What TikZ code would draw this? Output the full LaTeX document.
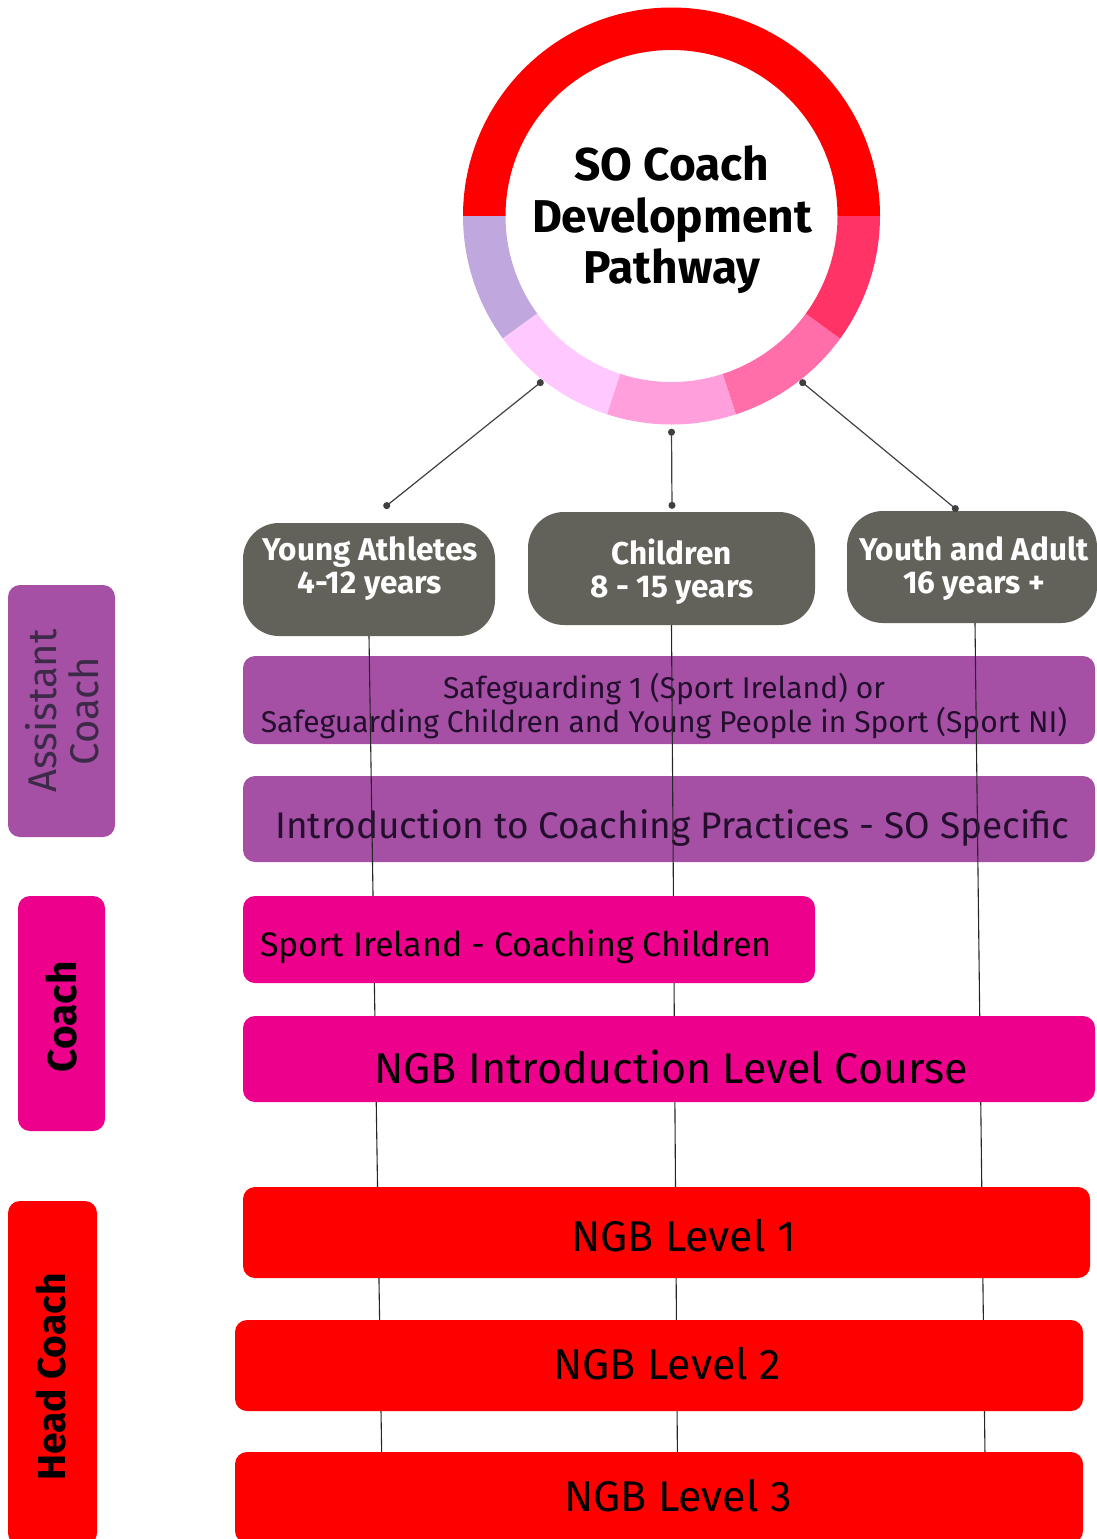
\documentclass[tikz,border=0pt]{standalone}
\usepackage{fontspec}
\setmainfont{Fira Sans}
\usetikzlibrary{arrows.meta,calc}
\definecolor{ringred}{RGB}{255,0,0}
\definecolor{ringlav}{RGB}{192,168,222}
\definecolor{ringlpink}{RGB}{255,200,255}
\definecolor{ringpink}{RGB}{255,160,220}
\definecolor{ringhot}{RGB}{255,110,168}
\definecolor{ringcrim}{RGB}{255,51,102}
\definecolor{agegrey}{RGB}{99,98,90}
\definecolor{acpurple}{RGB}{165,80,165}
\definecolor{cmagenta}{RGB}{236,0,140}
\definecolor{hred}{RGB}{255,0,0}
\definecolor{boxtext}{RGB}{35,15,45}
\definecolor{actext}{RGB}{60,42,72}
\newcommand\ringseg[3]{\fill[#3] ($(so.center)+(#1:208.5)$) arc[start angle=#1, end angle=#2, radius=208.5] -- ($(so.center)+(#2:166)$) arc[start angle=#2, end angle=#1, radius=166] -- cycle;}
\tikzset{
  agebox/.style={fill=agegrey, rounded corners=36pt, inner sep=0pt},
  agetext/.style={text=white, font=\fontsize{31.5}{33}\selectfont\bfseries, align=center},
  purplebox/.style={fill=acpurple, rounded corners=12pt, inner sep=0pt},
  magbox/.style={fill=cmagenta, rounded corners=12pt, inner sep=0pt},
  redbox/.style={fill=hred, rounded corners=12pt, inner sep=0pt},
  leveltext/.style={anchor=base, font=\fontsize{43}{48}\selectfont},
  dotline/.style={draw=black!75, line width=1.2pt, {Circle[length=7pt]}-{Circle[length=7pt]}},
  vline/.style={draw=black!85, line width=1.1pt},
}
\begin{document}
\begin{tikzpicture}[x=1pt,y=-1pt]
\useasboundingbox (0,0) rectangle (1096,1539);
% central ring
\node[circle, minimum size=417pt, inner sep=0pt, align=center,
      font=\fontsize{46}{51.5}\selectfont\bfseries] (so) at (671.5,216) {};
\node[align=center, font=\fontsize{46}{51.5}\selectfont\bfseries] (soT) at (672,220)
      {SO Coach\\Development\\Pathway};
\ringseg{0}{-180}{ringred}
\ringseg{-180}{-216}{ringlav}
\ringseg{-216}{-252}{ringlpink}
\ringseg{-252}{-288}{ringpink}
\ringseg{-288}{-324}{ringhot}
\ringseg{-324}{-360}{ringcrim}
% age boxes
\node[agebox, minimum width=252pt, minimum height=113pt] (ya) at (369,579.5) {};
\node[agebox, minimum width=287pt, minimum height=113pt] (ch) at (671.5,568.5) {};
\node[agebox, minimum width=250pt, minimum height=112pt] (ad) at (972,567) {};
\node[agetext] (yaT) at (370,569) {Young Athletes\\4-12 years};
\node[agetext] (chT) at (672,571.5) {Children\\8 - 15 years};
\node[agetext] (adT) at (974,569) {Youth and Adult\\16 years +};
% top connectors
\coordinate (yaTop) at ($(ya.north)+(15,-15)$);
\coordinate (chTop) at ($(ch.north)+(0.5,-3)$);
\coordinate (adTop) at ($(ad.north)+(-14,0)$);
\draw[dotline] (so.232.6) -- (yaTop);
\draw[dotline] ($(so.270)+(0,4)$) -- (chTop);
\draw[dotline] (so.308.4) -- (adTop);
% assistant coach courses
\node[purplebox, minimum width=852pt, minimum height=88pt] (sg) at (669,700) {};
\node[align=center, text=boxtext, font=\fontsize{30}{34}\selectfont] (sgT) at (664,706)
  {Safeguarding 1 (Sport Ireland) or\\Safeguarding Children and Young People in Sport (Sport NI)};
\node[purplebox, minimum width=852pt, minimum height=86pt] (icp) at (669,819) {};
\node[anchor=base, text=boxtext, font=\fontsize{37}{42}\selectfont] (icpT) at (672.5,838)
  {Introduction to Coaching Practices - SO Specific};
% vertical pathway lines
\coordinate (yaEnd) at (383,1539);
\coordinate (chEnd) at (678,1539);
\coordinate (adEnd) at (986,1539);
\draw[vline] (ya.south) -- (yaEnd);
\draw[vline] (ch.south) -- (chEnd);
\draw[vline] ($(ad.south)+(3,0)$) -- (adEnd);
% coach courses
\node[magbox, minimum width=572pt, minimum height=87pt] (sic) at (529,939.5) {};
\node[anchor=base west, inner sep=0pt, font=\fontsize{34}{40}\selectfont] (sicT) at (260,956)
  {Sport Ireland - Coaching Children};
\node[magbox, minimum width=852pt, minimum height=86pt] (ngbi) at (669,1059) {};
\node[anchor=base, font=\fontsize{43}{48}\selectfont] (ngbiT) at (671,1083)
  {NGB Introduction Level Course};
% head coach courses
\node[redbox, minimum width=847pt, minimum height=91pt] (l1) at (666.5,1232.5) {};
\node[leveltext] (l1T) at (683.5,1251) {NGB Level 1};
\node[redbox, minimum width=848pt, minimum height=91pt] (l2) at (659,1365.5) {};
\node[leveltext] (l2T) at (667,1379) {NGB Level 2};
\node[redbox, minimum width=848pt, minimum height=91pt] (l3) at (659,1497.5) {};
\node[leveltext] (l3T) at (678,1511) {NGB Level 3};
% role labels
\node[purplebox, minimum width=107pt, minimum height=252pt] (ac) at (61.5,711) {};
\node[rotate=90, align=center, text=actext, font=\fontsize{40}{42}\selectfont] (acT) at (62,711)
  {Assistant\\Coach};
\node[magbox, minimum width=87pt, minimum height=235pt] (co) at (61.5,1013.5) {};
\node[rotate=90, font=\fontsize{40.5}{44}\selectfont\bfseries] (coT) at (61,1017) {Coach};
\node[redbox, minimum width=89pt, minimum height=344pt] (hc) at (52.5,1373) {};
\node[rotate=90, font=\fontsize{39}{44}\selectfont\bfseries] (hcT) at (51,1377) {Head Coach};
\end{tikzpicture}
\end{document}
